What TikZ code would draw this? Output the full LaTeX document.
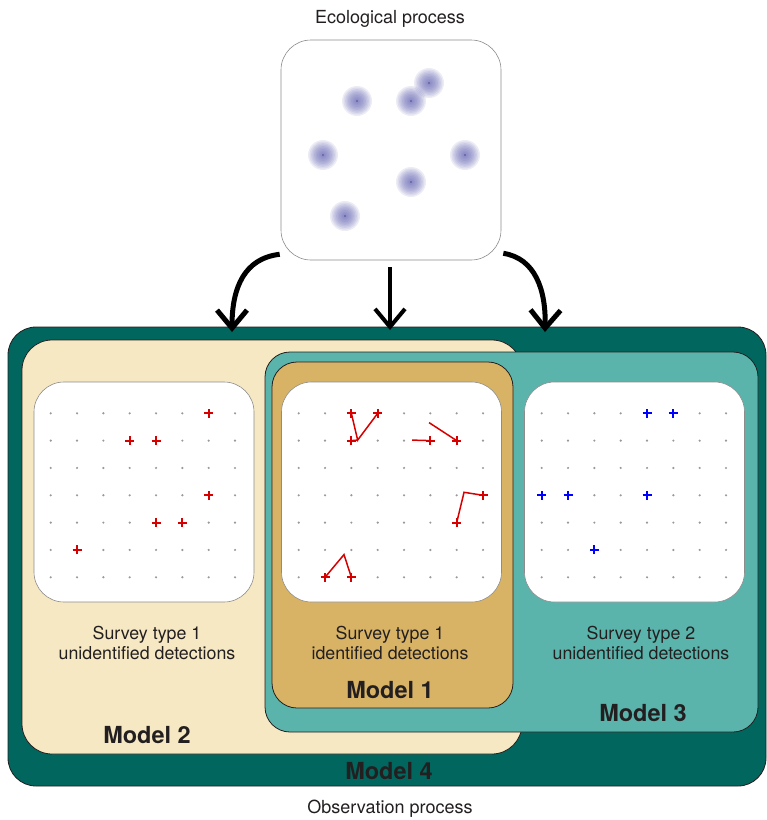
\documentclass[tikz,border=0pt]{standalone}
\usepackage{fontspec}
\setmainfont{TeX Gyre Heros}
\usetikzlibrary{arrows.meta}
\definecolor{darkteal}{HTML}{01665E}
\definecolor{lightteal}{HTML}{5AB4AC}
\definecolor{cream}{HTML}{F6E8C3}
\definecolor{tanbox}{HTML}{D8B365}
\definecolor{blobc}{RGB}{100,100,180}
\definecolor{inkc}{HTML}{231F20}
\definecolor{detred}{RGB}{215,0,0}
\definecolor{detblue}{RGB}{0,0,255}
\tikzset{
	modelbox/.style={draw=inkc, line width=0.8pt, inner sep=0pt},
	panel/.style={draw=black!45, line width=0.6pt, fill=white, rounded corners=30pt, minimum width=220pt, minimum height=220pt, inner sep=0pt},
	textlbl/.style={font=\fontsize{18}{21}\selectfont, text=inkc, inner sep=0pt},
	survtext/.style={font=\fontsize{17.8}{19.5}\selectfont, text=inkc, align=center, inner sep=0pt},
	modeltext/.style={font=\fontsize{23.5}{27}\selectfont\bfseries, text=inkc, inner sep=0pt},
	bigarrow/.style={line width=5pt, -{Straight Barb[length=18pt,width=30pt]}},
	griddot/.style={fill=black!40},
	detect/.style={line width=1.8pt},
	track/.style={detred, line width=1.5pt}
}
% one detection cross at grid point #2
\newcommand{\detect}[2][detred]{\draw[detect,draw=#1] (#2) ++(-4.5pt,0pt) -- ++(9pt,0pt) (#2) ++(0pt,-4.5pt) -- ++(0pt,9pt);}
\newcommand{\dotgrid}{\foreach \i in {0,...,7} \foreach \j in {0,...,6} \fill[griddot] (\i,\j) circle (1.2pt);}

\begin{document}
\begin{tikzpicture}[x=1pt,y=-1pt]
	\useasboundingbox (0,0) rectangle (767,820);
	
	\node[textlbl, anchor=base] (ecolbl) at (390,23) {Ecological process};
	\node[panel] (eco) at (391,150) {};
	\foreach \x/\y in {357/101, 411/101, 429/83, 323/155, 465/155, 411/182, 345/216} {
		\foreach \r in {15,13.5,...,1.5}
			\fill[blobc, opacity=0.12] (\x,\y) circle (\r pt);
		\fill[blobc!80!black] (\x,\y) circle (0.8pt);
	}
	
	% model boxes
	\node[modelbox, fill=darkteal, rounded corners=28pt, minimum width=758pt, minimum height=459pt] (m4) at (387,556.5) {};
	\node[modelbox, fill=cream, rounded corners=30pt, minimum width=500pt, minimum height=414pt] (m2) at (272,547) {};
	\node[modelbox, fill=lightteal, rounded corners=25pt, minimum width=493pt, minimum height=380pt] (m3) at (511.5,542) {};
	\node[modelbox, fill=tanbox, rounded corners=25pt, minimum width=241pt, minimum height=346pt] (m1) at (392.5,535) {};
	
	% arrows
	\coordinate (in2) at (232,332);
	\coordinate (in1) at (390,330);
	\coordinate (in3) at (545,332);
	\draw[bigarrow] ([xshift=-1pt,yshift=6pt]eco.south west) .. controls +(-35pt,-4pt) and +(0pt,45pt) .. (in2);
	\draw[bigarrow, line width=4pt] ([xshift=-1pt,yshift=-7pt]eco.south) -- (in1);
	\draw[bigarrow] ([xshift=2pt,yshift=7pt]eco.south east) .. controls +(32pt,-5pt) and +(1pt,42pt) .. (in3);
	
	% survey panels
	\node[panel] (p2) at (144,492) {};
	\node[panel] (p1) at (391.5,492) {};
	\node[panel] (p3) at (634.5,492) {};
	
	\begin{scope}[shift={(50.7,413.3)}, x=26.33pt, y=-27.33pt]
		\dotgrid
		\foreach \c in {{6,0},{3,1},{4,1},{6,3},{4,4},{5,4},{1,5}} \detect{\c};
	\end{scope}
	
	\begin{scope}[shift={(298.7,413.3)}, x=26.33pt, y=-27.33pt]
		\dotgrid
		\draw[track] (2,0) -- (2.24,0.98) -- (3,0) (2,1) -- (2.24,0.98);
		\draw[track] (4.31,0.98) -- (5,1);
		\draw[track] (4.95,0.34) -- (6,1);
		\draw[track] (7,3) -- (6.28,2.89) -- (6,4);
		\draw[track] (1,6) -- (1.72,5.17) -- (2,6);
		\foreach \c in {{2,0},{3,0},{2,1},{5,1},{6,1},{7,3},{6,4},{1,6},{2,6}} \detect{\c};
	\end{scope}
	
	\begin{scope}[shift={(541.7,413.3)}, x=26.33pt, y=-27.33pt]
		\dotgrid
		\foreach \c in {{4,0},{5,0},{0,3},{1,3},{4,3},{2,5}} \detect[detblue]{\c};
	\end{scope}
	
	% labels
	\node[survtext] (s2lbl) at (147,643) {Survey type 1\\unidentified detections};
	\node[survtext] (s1lbl) at (390,643) {Survey type 1\\identified detections};
	\node[survtext] (s3lbl) at (641,643) {Survey type 2\\unidentified detections};
	\node[modeltext] (m1lbl) at (390,690) {Model 1};
	\node[modeltext] (m2lbl) at (147,735.5) {Model 2};
	\node[modeltext] (m3lbl) at (643,713) {Model 3};
	\node[modeltext] (m4lbl) at (389,771) {Model 4};
	\node[textlbl, anchor=base] (obslbl) at (390,813) {Observation process};
\end{tikzpicture}
\end{document}
